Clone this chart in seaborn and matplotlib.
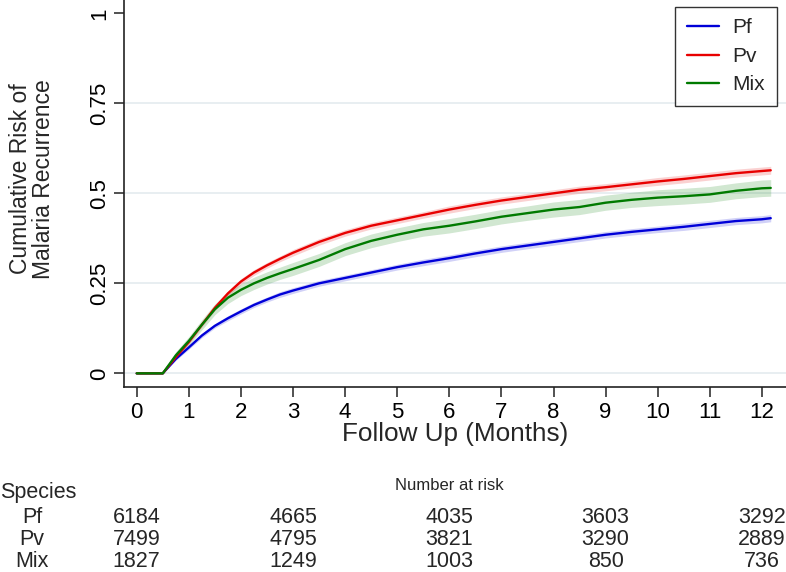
import numpy as np
import pandas as pd
import matplotlib
matplotlib.use("Agg")
import matplotlib.pyplot as plt
import matplotlib.transforms as mtransforms
import seaborn as sns

# follow-up time (months) and cumulative risk
months = [0, 0.5, 0.75, 1, 1.25, 1.5, 1.75, 2, 2.25, 2.5, 2.75, 3, 3.5, 4, 4.5,
          5, 5.5, 6, 6.5, 7, 7.5, 8, 8.5, 9, 9.5, 10, 10.5, 11, 11.5, 12, 12.17]

pf = [0, 0, 0.040, 0.072, 0.105, 0.132, 0.153, 0.172, 0.190, 0.205, 0.219, 0.230,
      0.250, 0.265, 0.280, 0.295, 0.308, 0.320, 0.333, 0.345, 0.355, 0.365, 0.375,
      0.385, 0.393, 0.400, 0.407, 0.415, 0.423, 0.428, 0.431]
pv = [0, 0, 0.045, 0.087, 0.135, 0.182, 0.222, 0.255, 0.280, 0.300, 0.318, 0.335,
      0.365, 0.390, 0.410, 0.425, 0.440, 0.455, 0.468, 0.480, 0.490, 0.500, 0.510,
      0.517, 0.525, 0.533, 0.540, 0.548, 0.556, 0.562, 0.564]
mix = [0, 0, 0.050, 0.090, 0.135, 0.178, 0.210, 0.232, 0.250, 0.265, 0.278, 0.290,
       0.315, 0.345, 0.368, 0.385, 0.400, 0.410, 0.422, 0.435, 0.445, 0.455, 0.462,
       0.474, 0.482, 0.488, 0.492, 0.497, 0.507, 0.514, 0.515]

# half-width of the 95% confidence band
pf_ci = [0, 0, 0.004, 0.005, 0.006, 0.006, 0.007, 0.007, 0.007, 0.007, 0.008, 0.008,
         0.008, 0.008, 0.008, 0.008, 0.009, 0.009, 0.009, 0.009, 0.009, 0.009, 0.009,
         0.009, 0.009, 0.009, 0.010, 0.010, 0.010, 0.010, 0.010]
pv_ci = [0, 0, 0.004, 0.005, 0.006, 0.007, 0.007, 0.008, 0.008, 0.008, 0.008, 0.009,
         0.009, 0.009, 0.009, 0.009, 0.009, 0.010, 0.010, 0.010, 0.010, 0.010, 0.010,
         0.010, 0.010, 0.011, 0.011, 0.011, 0.011, 0.011, 0.011]
mix_ci = [0, 0, 0.010, 0.012, 0.014, 0.015, 0.016, 0.016, 0.017, 0.017, 0.017, 0.018,
          0.018, 0.018, 0.019, 0.019, 0.019, 0.020, 0.020, 0.020, 0.020, 0.021, 0.021,
          0.021, 0.021, 0.022, 0.022, 0.022, 0.022, 0.023, 0.023]

species = ["Pf", "Pv", "Mix"]
colors = {"Pf": "#0000d8", "Pv": "#e80000", "Mix": "#007a00"}

# number at risk table
risk_months = [0, 3, 6, 9, 12]
at_risk = {
    "Pf": [6184, 4665, 4035, 3603, 3292],
    "Pv": [7499, 4795, 3821, 3290, 2889],
    "Mix": [1827, 1249, 1003, 850, 736],
}

series = {"Pf": (pf, pf_ci), "Pv": (pv, pv_ci), "Mix": (mix, mix_ci)}
frames = []
for name in species:
    vals, ci = series[name]
    frames.append(pd.DataFrame({"months": months, "risk": vals, "ci": ci, "species": name}))
df = pd.concat(frames, ignore_index=True)

sns.set_theme(style="ticks")
plt.rcParams["font.family"] = ["Liberation Sans", "DejaVu Sans"]

fig = plt.figure(figsize=(7.86, 5.72), dpi=100)
ax = fig.add_axes([0.1578, 0.324, 0.842, 0.676])

# confidence bands
for name in species:
    d = df[df["species"] == name]
    ax.fill_between(d["months"], d["risk"] - d["ci"], d["risk"] + d["ci"],
                    color=colors[name], alpha=0.18, linewidth=0)

sns.lineplot(data=df, x="months", y="risk", hue="species", hue_order=species,
             palette=colors, linewidth=1.7, errorbar=None, ax=ax)

ax.set_xlim(-0.244, 12.46)
ax.set_ylim(-0.037, 1.037)
ax.set_xticks(range(0, 13))
ax.set_yticks([0, 0.25, 0.5, 0.75, 1])
ax.set_yticklabels(["0", "0.25", "0.5", "0.75", "1"], rotation=90, va="center")

ax.yaxis.grid(True, color="#e4ebef", linewidth=1.2)
ax.get_ygridlines()[-1].set_visible(False)

sns.despine(ax=ax)
for s in ["left", "bottom"]:
    ax.spines[s].set_linewidth(1.2)
    ax.spines[s].set_color("#222222")
ax.tick_params(axis="both", direction="out", length=7, width=1.1, color="#222222",
               labelsize=16, labelcolor="black")
ax.tick_params(axis="x", pad=4)
ax.tick_params(axis="y", pad=3)

ax.set_xlabel("Follow Up (Months)", fontsize=18.8)
ax.xaxis.set_label_coords(0.5, -0.092)
ax.set_ylabel("")
fig.text(32 / 786, 1 - 179 / 572, "Cumulative Risk of\nMalaria Recurrence",
         rotation=90, ha="center", va="center", fontsize=16.5, linespacing=1.0,
         multialignment="center")

handles, labels = ax.get_legend_handles_labels()
leg = ax.legend(handles, labels, loc="upper right", bbox_to_anchor=(0.986, 0.982),
                borderaxespad=0, frameon=True, fancybox=False, edgecolor="black",
                fontsize=15, handlelength=1.55, handletextpad=0.65, labelspacing=0.45,
                borderpad=0.55)
leg.get_frame().set_linewidth(1.0)
leg.set_title(None)

# risk table below the plot (x in data units, y in figure units)
trans = mtransforms.blended_transform_factory(ax.transData, fig.transFigure)
ax.text(6, 1 - 490 / 572, "Number at risk", transform=trans, ha="center",
        va="baseline", fontsize=12, clip_on=False)
fig.text(0.0, 1 - 498 / 572, "Species", ha="left", va="baseline", fontsize=15.5)
row_base = {"Pf": 523, "Pv": 545, "Mix": 567}
for name in species:
    yb = 1 - row_base[name] / 572
    fig.text(32 / 786, yb, name, ha="center", va="baseline", fontsize=15.5)
    for m, n in zip(risk_months, at_risk[name]):
        ax.text(m, yb, str(n), transform=trans, ha="center", va="baseline",
                fontsize=15.5, clip_on=False)

fig.savefig("out.png", dpi=100)
